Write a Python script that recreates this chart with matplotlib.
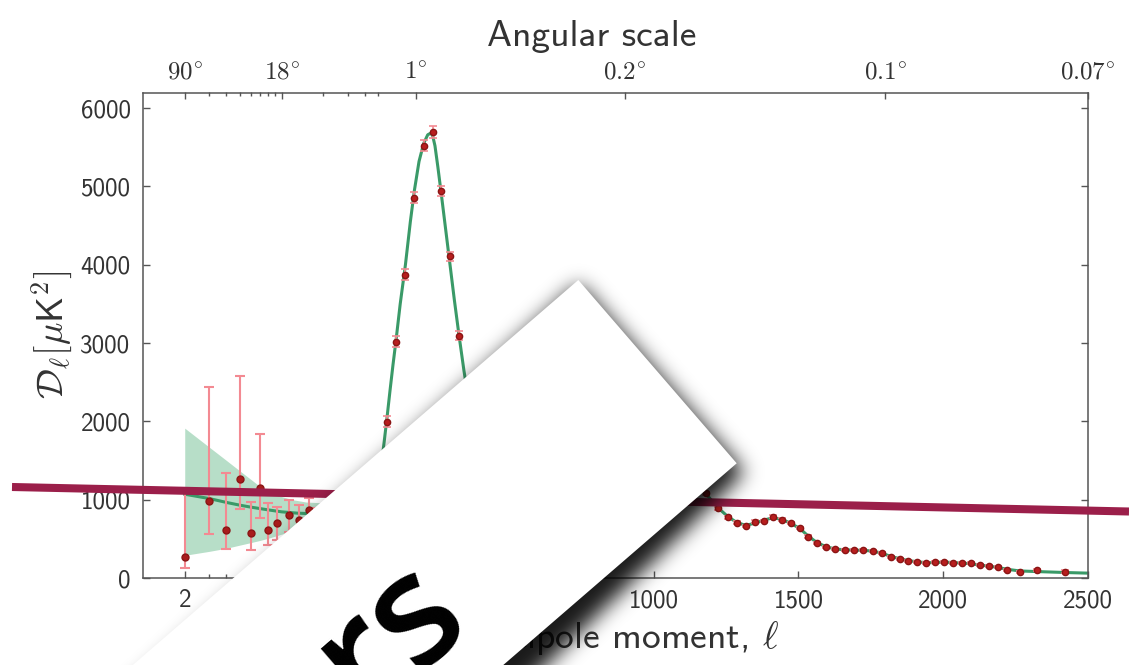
import numpy as np
import matplotlib
matplotlib.use('Agg')
import matplotlib.pyplot as plt
from matplotlib.path import Path
from matplotlib.patches import Polygon

plt.rcParams['font.family'] = ['cmss10', 'DejaVu Sans']
plt.rcParams['mathtext.fontset'] = 'cm'
plt.rcParams['axes.unicode_minus'] = False
plt.rcParams['axes.formatter.use_mathtext'] = True

# ---- data ----
ell_low = [2, 3, 4, 5, 6, 7, 8, 9.3, 11.4, 13.3, 15.7, 18, 22, 27, 33, 40, 47]
dl_low = [273, 989, 614, 1266, 580, 1155, 614, 699, 806, 742, 870, 820, 880, 950, 1000, 1150, 1300]
dl_low_lo = [124, 563, 367, 878, 358, 763, 422, 486, 592, 560, 700, 740, 790, 870, 920, 1060, 1200]
dl_low_hi = [1150, 2439, 1339, 2574, 976, 1841, 963, 912, 997, 933, 1020, 900, 960, 1030, 1090, 1250, 1400]

ell_high = [81, 111, 143, 174, 206, 237, 267, 297, 328, 359, 390, 421, 452, 483, 514, 545,
            576, 607, 638, 669, 700, 731, 762, 793, 824, 855, 886, 917, 948, 979, 1010,
            1041, 1072, 1103, 1134, 1181, 1223, 1256, 1287, 1318, 1350, 1382, 1412, 1444,
            1474, 1505, 1534, 1565, 1597, 1628, 1660, 1692, 1723, 1756, 1787, 1819, 1850,
            1879, 1910, 1942, 1971, 2002, 2034, 2065, 2095, 2126, 2158, 2189, 2220, 2264,
            2325, 2422]
dl_high = [1995, 3018, 3875, 4859, 5518, 5700, 4941, 4109, 3095, 2300, 1850, 1680, 1750, 2050,
           2350, 2560, 2520, 2300, 2050, 1900, 1900, 2100, 2350, 2480, 2450, 2250, 1950, 1650,
           1380, 1220, 1150, 1170, 1220, 1240, 1210, 1083, 891, 776, 707, 665, 720, 729, 784,
           742, 700, 636, 528, 444, 393, 367, 358, 358, 358, 349, 316, 272, 247, 221, 208,
           188, 201, 208, 196, 188, 188, 166, 153, 137, 102, 73, 102, 81]
err_high = [70, 70, 65, 65, 70, 75, 65, 60, 55, 45, 40, 35, 35, 35, 35, 35, 35, 35, 30, 30,
            30, 30, 30, 30, 30, 30, 28, 25, 25, 22, 22, 22, 22, 22, 22, 20, 18, 18, 18, 18,
            18, 18, 18, 18, 16, 16, 15, 15, 15, 14, 14, 14, 14, 14, 13, 13, 13, 13, 13, 13,
            13, 13, 13, 13, 13, 13, 13, 13, 13, 14, 15, 16]

ell_model = [2, 3, 4, 5, 6, 8, 10, 13, 16, 20, 25, 30, 40, 50, 60, 70, 81, 90, 100, 111, 125,
             143, 160, 174, 190, 206, 220, 230, 237, 245, 255, 267, 282, 297, 312, 328, 345,
             360, 380, 400, 421, 440, 460, 483, 514, 545, 576, 607, 638, 669, 700, 731, 762,
             793, 824, 855, 886, 917, 948, 979, 1010, 1041, 1072, 1103, 1134, 1160, 1181, 1200,
             1223, 1256, 1287, 1318, 1350, 1382, 1412, 1444, 1474, 1505, 1534, 1565, 1597,
             1628, 1660, 1692, 1723, 1756, 1787, 1819, 1850, 1879, 1910, 1942, 1971, 2002,
             2034, 2065, 2095, 2126, 2158, 2189, 2220, 2264, 2325, 2422, 2500]
dl_model = [1070, 1015, 965, 930, 905, 870, 845, 828, 822, 830, 860, 900, 1020, 1200, 1450,
            1750, 2100, 2400, 2720, 3050, 3500, 4000, 4550, 4950, 5320, 5550, 5660, 5680, 5650,
            5520, 5250, 4900, 4450, 4000, 3550, 3100, 2650, 2300, 1950, 1750, 1680, 1700, 1820,
            2050, 2350, 2540, 2500, 2300, 2060, 1910, 1920, 2100, 2340, 2470, 2440, 2260, 1960,
            1660, 1390, 1230, 1160, 1170, 1210, 1230, 1200, 1150, 1075, 990, 895, 785, 710, 672,
            700, 740, 770, 748, 698, 632, 535, 450, 398, 370, 360, 356, 352, 345, 318, 276, 246,
            222, 208, 195, 197, 203, 198, 190, 182, 166, 152, 135, 112, 90, 82, 70, 62]

ell_band = [2, 3, 4, 5, 6, 7, 8, 10, 12, 15, 20, 25, 30, 40, 50]
band_hi = [1914, 1672, 1501, 1367, 1259, 1167, 1100, 1040, 1000, 970, 960, 985, 1030, 1180, 1450]
band_lo = [290, 340, 380, 420, 452, 480, 507, 560, 600, 650, 700, 745, 790, 900, 1000]

bottom_ticks = [2, 10, 50, 500, 1000, 1500, 2000, 2500]
bottom_minor = [3, 4, 5, 6, 7, 8, 9, 20, 30, 40]
top_ticks = [2, 10, 180, 900, 1800, 2500]
top_labels = ['90', '18', '1', '0.2', '0.1', '0.07']
top_minor = [3, 4, 5, 6, 7, 8, 9, 20, 30, 40, 50]
y_ticks = [0, 1000, 2000, 3000, 4000, 5000, 6000]

# log below l=50, linear above
L_SPLIT = 50.0
K_LIN = 0.29 / 138.8


def fwd(l):
    l = np.asarray(l, dtype=float)
    return np.where(l <= L_SPLIT, np.log10(np.clip(l, 1e-3, None)),
                    np.log10(L_SPLIT) + (l - L_SPLIT) * K_LIN)


def inv(u):
    u = np.asarray(u, dtype=float)
    return np.where(u <= np.log10(L_SPLIT), 10 ** np.clip(u, -5, 5),
                    L_SPLIT + (u - np.log10(L_SPLIT)) / K_LIN)


W, H = 1129, 665
fig = plt.figure(figsize=(W / 100, H / 100), dpi=100)
fig.patch.set_facecolor('white')
ax = fig.add_axes([143 / W, 1 - 578 / H, 945 / W, 485.5 / H])
grey = '#555555'
txt = '#333333'

ax.set_xscale('function', functions=(fwd, inv))
ax.set_xlim(1.0, 2500)
ax.set_ylim(0, 6200)

ax.fill_between(ell_band, band_lo, band_hi, color='#9fd4b6', alpha=0.75, lw=0, zorder=1)
ax.plot(ell_model, dl_model, color='#3a9a68', lw=2.2, zorder=2)
ax.errorbar(ell_low, dl_low,
            yerr=[np.subtract(dl_low, dl_low_lo), np.subtract(dl_low_hi, dl_low)],
            fmt='o', ms=5, color='#a81c1c', mec='#8a1515', ecolor='#f38a92',
            elinewidth=1.5, capsize=3.5, capthick=1.5, zorder=3)
ax.errorbar(ell_high, dl_high, yerr=err_high, fmt='o', ms=4.5, color='#b81e1e',
            mec='#8a1515', ecolor='#f38a92', elinewidth=1.2, capsize=3.2, capthick=1.2,
            zorder=3)

ax.set_xticks(bottom_ticks)
ax.set_xticklabels([str(t) for t in bottom_ticks])
ax.set_xticks(bottom_minor, minor=True)
ax.set_yticks(y_ticks)
ax.set_yticklabels([str(t) for t in y_ticks])
ax.tick_params(axis='both', which='both', direction='in', colors=grey, labelcolor=txt,
               labelsize=18)
ax.tick_params(axis='x', which='both', top=False, pad=8)
ax.tick_params(axis='y', which='both', right=True, pad=9)
ax.tick_params(which='major', length=5, width=1)
ax.tick_params(which='minor', length=3, width=1)
for s in ax.spines.values():
    s.set_color(grey)
    s.set_linewidth(1.1)
ax.set_xlabel('Multipole moment, $\\ell$', fontsize=27, color=txt, labelpad=5)
ax.set_ylabel('$\\mathcal{D}_\\ell[\\mu\\mathsf{K}^2]$', fontsize=27, color=txt, labelpad=4)

ax2 = ax.twiny()
ax2.set_xscale('function', functions=(fwd, inv))
ax2.set_xlim(ax.get_xlim())
ax2.set_xticks(top_ticks)
ax2.set_xticklabels(['$\\mathsf{%s}^{\\circ}$' % t for t in top_labels])
ax2.set_xticks(top_minor, minor=True)
ax2.tick_params(axis='x', which='both', direction='in', colors=grey, labelcolor=txt,
                labelsize=18, pad=6)
ax2.tick_params(which='major', length=5, width=1)
ax2.tick_params(which='minor', length=3, width=1)
for s in ax2.spines.values():
    s.set_visible(False)
ax2.set_xlabel('Angular scale', fontsize=27, color=txt, labelpad=8)
ax2.xaxis.set_label_coords(0.475, 1.095)

# ---- overlay: stripe, card with shadow, text (figure pixel coords) ----
ov = fig.add_axes([0, 0, 1, 1], zorder=10)
ov.set_xlim(0, W)
ov.set_ylim(H, 0)
ov.axis('off')
ov.patch.set_alpha(0)

ov.plot([12, W], [487, 511.5], color='#9b1f4a', lw=5.8, solid_capstyle='butt', zorder=1)

A = np.array([578.3, 280.0])
B = np.array([736.7, 463.3])
long_dir = np.array([-0.7565, 0.6537])
C = B + 900 * long_dir
D = A + 900 * long_dir
card = np.array([A, B, C, D])
shadow = np.array([A + (1, 4), B + (8, 9), C + (45, 45), D + (12, 22)])

pad = 60
yy, xx = np.mgrid[-pad:H + pad, -pad:W + pad] + 0.5
mask = Path(shadow).contains_points(np.column_stack([xx.ravel(), yy.ravel()]))
mask = mask.reshape(xx.shape).astype(float)
sig = 10
kx = np.arange(-3 * sig, 3 * sig + 1)
kern = np.exp(-kx ** 2 / (2.0 * sig ** 2))
kern /= kern.sum()
blur = np.apply_along_axis(lambda r: np.convolve(r, kern, mode='same'), 1, mask)
blur = np.apply_along_axis(lambda c: np.convolve(c, kern, mode='same'), 0, blur)
blur = blur[pad:pad + H, pad:pad + W]
rgba = np.zeros((H, W, 4))
rgba[..., 3] = blur * 0.9
ov.imshow(rgba, extent=(0, W, H, 0), aspect='auto', interpolation='nearest', zorder=2)
ov.add_patch(Polygon(card, closed=True, facecolor='white', edgecolor='none', zorder=3))
ov.text(471, 619, 'rs', fontsize=112, fontfamily='Open Sans', fontweight='semibold',
        color='black', rotation=40.8, rotation_mode='anchor', ha='right', va='baseline',
        zorder=4)
ov.set_xlim(0, W)
ov.set_ylim(H, 0)

fig.savefig('out.png', dpi=100, facecolor='white')
